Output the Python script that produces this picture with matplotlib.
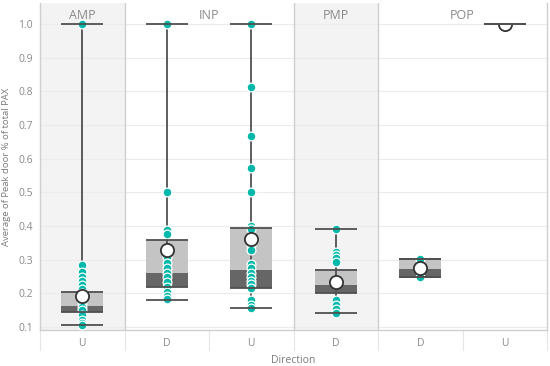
import matplotlib
matplotlib.use("Agg")
import matplotlib.pyplot as plt
from matplotlib.path import Path

plt.rcParams['font.family'] = ['Open Sans', 'DejaVu Sans']

# panels and direction slots
panels = ['AMP', 'INP', 'PMP', 'POP']
panel_slots = [1, 2, 1, 2]
shaded = [True, False, True, False]
directions = ['U', 'D', 'U', 'D', 'D', 'U']

# box statistics per slot
whis_lo = [0.106, 0.180, 0.157, 0.143, 0.248, 1.0]
q1 = [0.146, 0.218, 0.215, 0.202, 0.248, 1.0]
median = [0.162, 0.261, 0.269, 0.225, 0.272, 1.0]
q3 = [0.205, 0.358, 0.393, 0.268, 0.301, 1.0]
whis_hi = [1.0, 1.0, 1.0, 0.390, 0.301, 1.0]
means = [0.193, 0.329, 0.361, 0.235, 0.275, 1.0]

# individual values
points = [
    [1.0, 0.285, 0.262, 0.25, 0.238, 0.225, 0.212, 0.2, 0.185, 0.17, 0.158,
     0.15, 0.137, 0.122, 0.112, 0.106],
    [1.0, 0.5, 0.388, 0.376, 0.307, 0.289, 0.274, 0.261, 0.249, 0.235,
     0.22, 0.205, 0.192, 0.183],
    [1.0, 0.812, 0.666, 0.571, 0.5, 0.4, 0.391, 0.344, 0.329, 0.286, 0.274,
     0.261, 0.249, 0.238, 0.227, 0.215, 0.18, 0.165, 0.157],
    [0.392, 0.324, 0.314, 0.304, 0.294, 0.18, 0.165, 0.153, 0.143],
    [0.301, 0.248],
    [1.0],
]

teal = '#01b8aa'
dark = '#505050'
light_box = '#c4c4c4'
dark_box = '#666666'

fig = plt.figure(figsize=(5.5, 3.66), dpi=100)
ax = fig.add_axes([40 / 550, 1 - 330 / 366, 507 / 550, 327 / 366])

n = len(directions)
xs = list(range(n))
ax.set_xlim(-0.5, n - 0.5)
ax.set_ylim(0.0911, 1.0624)

# shaded panels, separators, labels
start = 0
for name, k, sh in zip(panels, panel_slots, shaded):
    lo, hi = start - 0.5, start + k - 0.5
    if sh:
        ax.axvspan(lo, hi, color='#f3f3f3', zorder=0, lw=0)
    if start > 0:
        ax.axvline(lo, color='#cfcfcf', lw=1, zorder=1)
    ax.text((lo + hi) / 2, 0.963, name, transform=ax.get_xaxis_transform(),
            ha='center', va='center', fontsize=9, color='#8a8a8a')
    start += k

# slot separators below the axis
for i in range(n + 1):
    ax.plot([i - 0.5, i - 0.5], [0, -0.06], transform=ax.get_xaxis_transform(),
            color='#e6e6e6', lw=0.8, clip_on=False)

ax.set_yticks([0.1, 0.2, 0.3, 0.4, 0.5, 0.6, 0.7, 0.8, 0.9, 1.0])
ax.set_yticklabels(['0.1', '0.2', '0.3', '0.4', '0.5', '0.6', '0.7', '0.8', '0.9', '1.0'])
ax.grid(axis='y', color='#ececec', lw=0.8, zorder=0.5)
ax.set_axisbelow(True)
ax.set_xticks(xs)
ax.set_xticklabels(directions)
ax.tick_params(length=0, labelsize=7.5, labelcolor='#8a8a8a')
ax.tick_params(axis='x', pad=6)
ax.tick_params(axis='y', pad=5)
for s in ax.spines.values():
    s.set_color('#cfcfcf')
    s.set_linewidth(1)
ax.spines['top'].set_visible(False)

ax.set_ylabel('Average of Peak door % of total PAX', fontsize=6.8, color='#7a7a7a', labelpad=5)
ax.set_xlabel('Direction', fontsize=7.5, color='#7a7a7a', labelpad=4)

w = 0.5
# boxes
ax.bar(xs, [b - a for a, b in zip(median, q3)], bottom=median, width=w,
       color=light_box, zorder=2, lw=0)
ax.bar(xs, [b - a for a, b in zip(q1, median)], bottom=q1, width=w,
       color=dark_box, zorder=2, lw=0)
# whiskers
ax.vlines(xs, whis_lo, whis_hi, color=dark, lw=1.3, zorder=2.5)
ax.hlines(whis_lo, [x - w / 2 for x in xs], [x + w / 2 for x in xs], color=dark, lw=1.3, zorder=5)
ax.hlines(whis_hi, [x - w / 2 for x in xs], [x + w / 2 for x in xs], color=dark, lw=1.3, zorder=5)
ax.hlines(q3, [x - w / 2 for x in xs], [x + w / 2 for x in xs], color=dark, lw=1.3, zorder=5)
ax.hlines(q1, [x - w / 2 for x in xs], [x + w / 2 for x in xs], color=dark, lw=1.3, zorder=5)

# points
for x, vals in zip(xs, points[:-1]):
    ax.scatter([x] * len(vals), vals, s=40, color=teal, edgecolors='white',
               linewidths=0.9, zorder=4)

# means (a single-value box only shows the lower half of its mean marker)
half_circle = Path.arc(180, 360)
for x, m, lo, hi in zip(xs, means, whis_lo, whis_hi):
    ax.plot([x], [m], marker='o' if lo != hi else half_circle, ms=9.5,
            mfc='white', mec='#333333', mew=1.3, ls='none',
            zorder=6 if lo != hi else 4)

fig.savefig('out.png', dpi=100)
